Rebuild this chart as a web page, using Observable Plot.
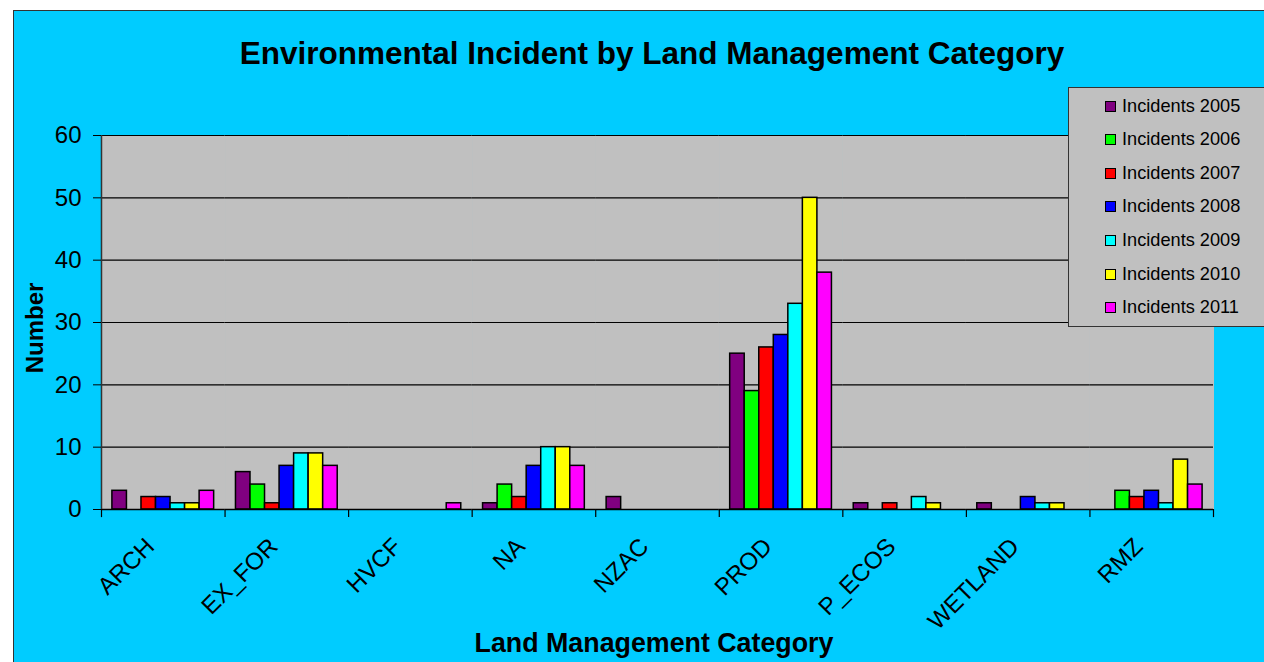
<!DOCTYPE html>
<html>
<head>
<meta charset="utf-8">
<script src="https://cdn.jsdelivr.net/npm/d3@7"></script>
<script src="https://cdn.jsdelivr.net/npm/@observablehq/plot@0.6"></script>
<style>
  html, body { margin: 0; padding: 0; background: #ffffff; }
  #wrap { position: relative; width: 1264px; height: 662px; overflow: hidden; font-family: "Liberation Sans", Arial, sans-serif; }
  #panel { position: absolute; left: 13px; top: 10px; width: 1260px; height: 660px; background: #00ccff; border: 1.5px solid #333; box-sizing: border-box; }
  #chart { position: absolute; left: 0; top: 0; }
  #title { position: absolute; left: 0; width: 1304px; top: 35px; text-align: center; font-weight: bold; font-size: 31.5px; line-height: 36px; color: #000; }
  #ylabel { position: absolute; left: 35px; top: 328px; transform: translate(-50%, -50%) rotate(-90deg); font-weight: bold; font-size: 24px; white-space: nowrap; }
  #xlabel { position: absolute; left: 0; width: 1308px; top: 628px; text-align: center; font-weight: bold; font-size: 26.8px; line-height: 30px; }
  #legend { position: absolute; left: 1068px; top: 87px; width: 210px; height: 240px; background: #c0c0c0; border: 1.5px solid #333; box-sizing: border-box; }
  .li { position: absolute; left: 36px; height: 20px; display: flex; align-items: center; font-size: 18.2px; color: #000; white-space: nowrap; }
  .sw { width: 9px; height: 9px; border: 1.5px solid #000; margin-right: 6px; }
</style>
</head>
<body>
<div id="wrap">
  <div id="panel"></div>
  <div id="chart"></div>
  <div id="title">Environmental Incident by Land Management Category</div>
  <div id="ylabel">Number</div>
  <div id="xlabel">Land Management Category</div>
  <div id="legend"></div>
</div>
<script>
// Categories and series
const categories = ["ARCH", "EX_FOR", "HVCF", "NA", "NZAC", "PROD", "P_ECOS", "WETLAND", "RMZ"];
const seriesNames = ["Incidents 2005", "Incidents 2006", "Incidents 2007", "Incidents 2008", "Incidents 2009", "Incidents 2010", "Incidents 2011"];
const seriesColors = ["#800080", "#00ff00", "#ff0000", "#0000ff", "#00ffff", "#ffff00", "#ff00ff"];
const incidents2005 = [3, 6, 0, 1, 2, 25, 1, 1, 0];
const incidents2006 = [0, 4, 0, 4, 0, 19, 0, 0, 3];
const incidents2007 = [2, 1, 0, 2, 0, 26, 1, 0, 2];
const incidents2008 = [2, 7, 0, 7, 0, 28, 0, 2, 3];
const incidents2009 = [1, 9, 0, 10, 0, 33, 2, 1, 1];
const incidents2010 = [1, 9, 0, 10, 0, 50, 1, 1, 8];
const incidents2011 = [3, 7, 1, 7, 0, 38, 0, 0, 4];
const yTicks = [0, 10, 20, 30, 40, 50, 60];

const seriesValues = [incidents2005, incidents2006, incidents2007, incidents2008, incidents2009, incidents2010, incidents2011];
const rows = [];
seriesNames.forEach((s, i) => {
  categories.forEach((c, j) => {
    rows.push({category: c, series: s, value: seriesValues[i][j]});
  });
});

const W = 1264, H = 662;
const mL = 101, mR = 51, mT = 135, mB = 153;
const step = (W - mL - mR) / categories.length;
const bw = step / 8.5;

const chart = Plot.plot({
  width: W,
  height: H,
  marginLeft: mL,
  marginRight: mR,
  marginTop: mT,
  marginBottom: mB,
  style: {background: "transparent", fontFamily: "Liberation Sans, Arial, sans-serif", color: "#000"},
  fx: {domain: categories, padding: 0, round: false, label: null},
  x: {domain: seriesNames, paddingInner: 0, paddingOuter: 0.75, round: false, axis: null},
  y: {domain: [0, 60], ticks: yTicks, label: null, axis: null},
  color: {domain: seriesNames, range: seriesColors},
  marks: [
    Plot.frame({fill: "#c0c0c0", stroke: "#c0c0c0", strokeWidth: 1}),
    Plot.ruleY(yTicks.filter(d => d > 0), {stroke: "#000", strokeWidth: 1.2}),
    Plot.barY(rows, {fx: "category", x: "series", y: "value", fill: "series", stroke: "#000", strokeWidth: 1.5}),
    Plot.ruleY([0], {stroke: "#000", strokeWidth: 1.5}),
    Plot.ruleX(categories, {fx: d => d, x: () => seriesNames[0], dx: -1.25 * bw, y1: 0, y2: -1.3, stroke: "#000", strokeWidth: 1.2, clip: false}),
    Plot.ruleX(categories.slice(-1), {fx: d => d, x: () => seriesNames[seriesNames.length - 1], dx: 1.25 * bw, y1: 0, y2: -1.3, stroke: "#000", strokeWidth: 1.2}),
    Plot.ruleX(categories.slice(0, 1), {fx: d => d, x: () => seriesNames[0], dx: -1.25 * bw, y1: 0, y2: 60, stroke: "#333", strokeWidth: 1.5}),
    Plot.axisY({ticks: yTicks, tickSize: 8, tickPadding: 12, fontSize: 24, label: null, tickFormat: d => String(d)}),
    Plot.axisFx({anchor: "bottom", tickSize: 0, tickRotate: -45, tickPadding: 33, dx: -13, fontSize: 24, label: null})
  ]
});
document.getElementById("chart").appendChild(chart);

const legend = document.getElementById("legend");
seriesNames.forEach((s, i) => {
  const el = document.createElement("div");
  el.className = "li";
  el.style.top = (8 + i * 33.6) + "px";
  const sw = document.createElement("div");
  sw.className = "sw";
  sw.style.background = seriesColors[i];
  const t = document.createElement("span");
  t.textContent = s;
  el.appendChild(sw);
  el.appendChild(t);
  legend.appendChild(el);
});
</script>
</body>
</html>
